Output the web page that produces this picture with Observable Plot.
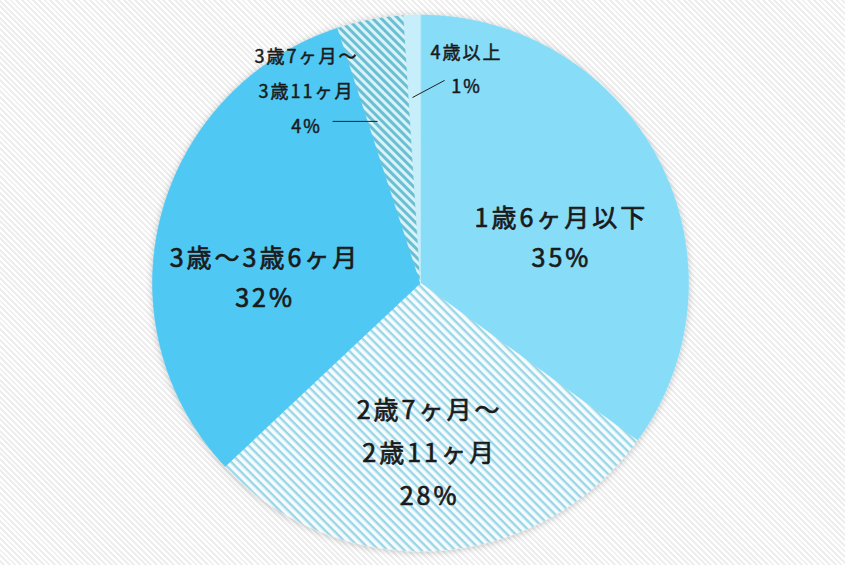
<!DOCTYPE html>
<html>
<head>
<meta charset="utf-8">
<script src="https://cdn.jsdelivr.net/npm/d3@7"></script>
<script src="https://cdn.jsdelivr.net/npm/@observablehq/plot@0.6"></script>
<style>
  html, body { margin: 0; padding: 0; }
  body {
    width: 845px; height: 565px; overflow: hidden;
    background: repeating-linear-gradient(45deg, #ffffff 0px, #ffffff 2px, #eeeeee 2px, #eeeeee 4px);
  }
  #chart svg { display: block; background: transparent; }
</style>
</head>
<body>
<div id="chart"></div>
<script>
// ---- data ----
const categories = ["1歳6ヶ月以下", "2歳7ヶ月〜2歳11ヶ月", "3歳〜3歳6ヶ月", "3歳7ヶ月〜3歳11ヶ月", "4歳以上"];
const values = [35, 28, 32, 4, 1];
const labelNames = ["1歳6ヶ月以下", "2歳7ヶ月〜\n2歳11ヶ月", "3歳〜3歳6ヶ月", "3歳7ヶ月〜\n3歳11ヶ月", "4歳以上"];

// ---- style / layout config ----
const fills = ["#87dcf7", "url(#hatchLight)", "#4fc8f3", "url(#hatchDark)", "#c6eefb"];
const cx = 420, cy = 282.5, r = 268;
const labelLayout = [
  {x: 0.526, y: 0.181, size: 25, lh: 1.6, ls: 3},
  {x: 0.034, y: -0.616, size: 25, lh: 1.74, ls: 3},
  {x: -0.580, y: 0.034, size: 25, lh: 1.64, ls: 3},
  {x: -0.425, y: 0.733, size: 18, lh: 1.95, ls: 2},
  {x: 0.172, y: 0.812, size: 18, lh: 1.9, ls: 2}
];
const leaders = [
  {x1: -0.328, y1: 0.603, x2: -0.160, y2: 0.603},
  {x1: 0.090, y1: 0.756, x2: -0.030, y2: 0.692}
];

// ---- pie geometry from values ----
const arcs = d3.pie().sort(null).value(d => d)(values);
const pts = [];
arcs.forEach((a, i) => {
  const cat = categories[i];
  const n = Math.max(2, Math.ceil((a.endAngle - a.startAngle) / (Math.PI / 360)));
  pts.push({cat, x: 0, y: 0});
  for (let k = 0; k <= n; k++) {
    const t = a.startAngle + (a.endAngle - a.startAngle) * k / n;
    pts.push({cat, x: Math.sin(t), y: Math.cos(t)});
  }
});

const textMarks = labelLayout.map((L, i) =>
  Plot.text([{x: L.x, y: L.y, t: labelNames[i] + "\n" + values[i] + "%"}], {
    x: "x", y: "y", text: "t",
    fontSize: L.size, lineHeight: L.lh, fill: "#1a1a1a", fontWeight: 400,
    stroke: "#1a1a1a", strokeWidth: L.size > 20 ? 0.7 : 0.5,
    textAnchor: "middle", lineAnchor: "middle"
  })
);

const svg = Plot.plot({
  width: 845,
  height: 565,
  margin: 0,
  style: {fontFamily: "'Noto Sans CJK JP', 'Noto Sans', sans-serif", background: "transparent"},
  x: {domain: [-1, 1], range: [cx - r, cx + r], axis: null},
  y: {domain: [-1, 1], range: [cy + r, cy - r], axis: null},
  color: {type: "ordinal", domain: categories, range: fills},
  marks: [
    Plot.line(pts, {x: "x", y: "y", z: "cat", fill: "cat", stroke: "cat", strokeWidth: 0.6, curve: "linear-closed"}),
    Plot.link(leaders, {x1: "x1", y1: "y1", x2: "x2", y2: "y2", stroke: "#222", strokeWidth: 1}),
    ...textMarks
  ]
});

d3.select(svg).insert("defs", ":first-child").html(`
  <pattern id="hatchLight" patternUnits="userSpaceOnUse" width="6" height="6" patternTransform="rotate(45)">
    <rect width="6" height="6" fill="#f6fcfe"/>
    <rect width="6" height="2.4" fill="#9bd6e7"/>
  </pattern>
  <pattern id="hatchDark" patternUnits="userSpaceOnUse" width="6" height="6" patternTransform="rotate(45)">
    <rect width="6" height="6" fill="#d8f3f9"/>
    <rect width="6" height="3" fill="#6cbfd2"/>
  </pattern>
  <filter id="pieShadow" x="-10%" y="-10%" width="120%" height="120%">
    <feDropShadow dx="0" dy="1" stdDeviation="3.5" flood-color="#000" flood-opacity="0.22"/>
  </filter>
`);
d3.select(svg).select('g[aria-label="line"]').attr("filter", "url(#pieShadow)");
d3.select(svg).selectAll('g[aria-label="text"]').each(function(_, i) {
  this.setAttribute("letter-spacing", labelLayout[i].ls + "px");
});

document.getElementById("chart").appendChild(svg);
</script>
</body>
</html>
